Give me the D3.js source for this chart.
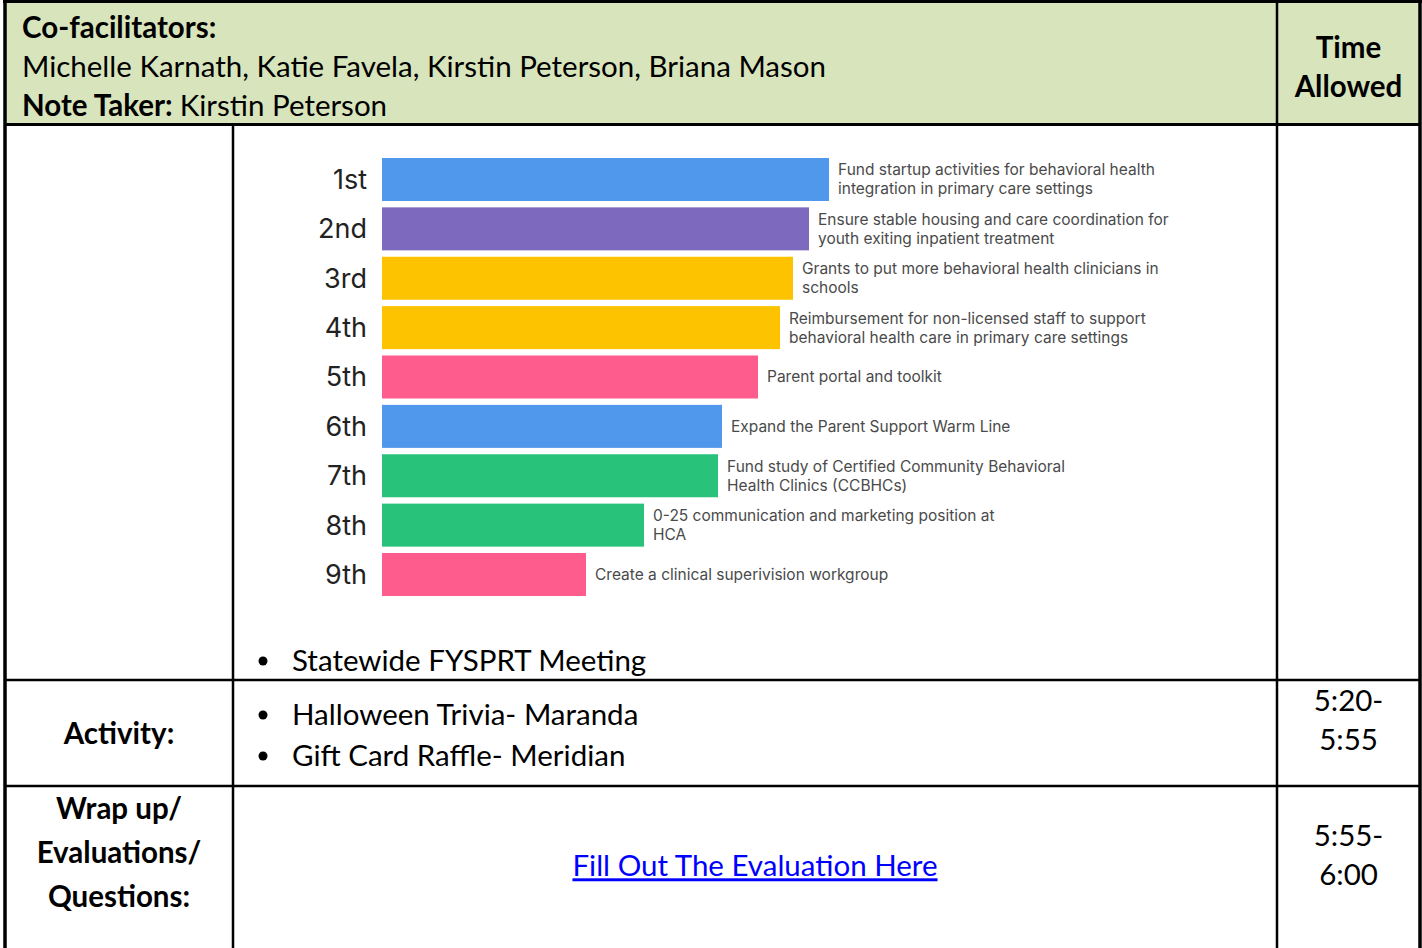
<!DOCTYPE html>
<html>
<head>
<meta charset="utf-8">
<script src="https://cdn.jsdelivr.net/npm/d3@7"></script>
<style>
  body { margin: 0; background: #fff; }
  svg { display: block; }
</style>
</head>
<body>
<div id="page"></div>
<script>
// ranking chart data
var ranks = ["1st", "2nd", "3rd", "4th", "5th", "6th", "7th", "8th", "9th"];
var scores = [447, 427, 411, 398, 376, 340, 336, 262, 204];
var priorities = [
    ["Fund startup activities for behavioral health", "integration in primary care settings"],
    ["Ensure stable housing and care coordination for", "youth exiting inpatient treatment"],
    ["Grants to put more behavioral health clinicians in", "schools"],
    ["Reimbursement for non-licensed staff to support", "behavioral health care in primary care settings"],
    ["Parent portal and toolkit"],
    ["Expand the Parent Support Warm Line"],
    ["Fund study of Certified Community Behavioral", "Health Clinics (CCBHCs)"],
    ["0-25 communication and marketing position at", "HCA"],
    ["Create a clinical superivision workgroup"]
];
var barColors = ["#4f98ec", "#7d69be", "#fdc300", "#fdc300", "#fe5c8c",
                 "#4f98ec", "#28c27b", "#28c27b", "#fe5c8c"];

// table text
var cofacilitators = "Michelle Karnath, Katie Favela, Kirstin Peterson, Briana Mason";
var noteTaker = "Kirstin Peterson";
var timeHeader = ["Time", "Allowed"];
var agendaItem = ["Statewide FYSPRT Meeting"];
var activityItems = ["Halloween Trivia- Maranda", "Gift Card Raffle- Meridian"];
var activityTime = ["5:20-", "5:55"];
var wrapLabel = ["Wrap up/", "Evaluations/", "Questions:"];
var wrapTime = ["5:55-", "6:00"];
var evalLink = "Fill Out The Evaluation Here";

var W = 1422, H = 948;
var docFont = "Lato, 'Open Sans', sans-serif";
var fs = 29.5;

var svg = d3.select("#page").append("svg")
    .attr("width", W).attr("height", H);

// grid positions
var xL = 5, xC1 = 233, xC2 = 1277, xR = 1420;
var yT = 1.5, yH = 124.5, yR2 = 680, yR3 = 786;

// header background
svg.append("rect").attr("x", xL).attr("y", yT).attr("width", xR - xL).attr("height", yH - yT)
    .attr("fill", "#d8e4bc");

// header text
var hdr = svg.append("text").attr("font-family", docFont).attr("font-size", fs).attr("fill", "#000");
hdr.append("tspan").attr("x", 22).attr("y", 38).attr("font-weight", "bold").text("Co-facilitators:");
hdr.append("tspan").attr("x", 22).attr("y", 77).text(cofacilitators);
var nt = svg.append("text").attr("font-family", docFont).attr("font-size", fs).attr("x", 22).attr("y", 116);
nt.append("tspan").attr("font-weight", "bold").text("Note Taker: ");
nt.append("tspan").text(noteTaker);

svg.selectAll(".timehdr").data(timeHeader).enter().append("text")
    .attr("class", "timehdr")
    .attr("x", (xC2 + xR) / 2).attr("y", function(d, i){ return 58 + i * 39; })
    .attr("text-anchor", "middle").attr("font-family", docFont).attr("font-size", fs)
    .attr("font-weight", "bold").text(function(d){ return d; });

// ---- bar chart ----
var x = d3.scaleLinear().domain([0, d3.max(scores)]).range([382, 829]);
var y = d3.scaleBand().domain(ranks).range([154.8, 599.2]).paddingInner(0.129).paddingOuter(0.0645);
var chart = svg.append("g");

chart.selectAll(".bar").data(ranks).enter().append("rect")
    .attr("class", "bar")
    .attr("x", x(0))
    .attr("y", function(d){ return y(d); })
    .attr("width", function(d, i){ return x(scores[i]) - x(0); })
    .attr("height", y.bandwidth())
    .attr("fill", function(d, i){ return barColors[i]; });

chart.selectAll(".rank").data(ranks).enter().append("text")
    .attr("class", "rank")
    .attr("x", x(0) - 15)
    .attr("y", function(d){ return y(d) + y.bandwidth() / 2; })
    .attr("dy", "0.35em")
    .attr("text-anchor", "end")
    .attr("font-family", "Inter, Roboto, sans-serif")
    .attr("font-size", 27)
    .attr("fill", "#222")
    .text(function(d){ return d; });

var lbl = chart.selectAll(".lbl").data(ranks).enter().append("text")
    .attr("class", "lbl")
    .attr("font-family", "Inter, Roboto, sans-serif")
    .attr("font-size", 15.5)
    .attr("fill", "#4a4a4a");
lbl.each(function(d, i){
    var lines = priorities[i];
    var cy = y(d) + y.bandwidth() / 2;
    var lh = 19;
    var t = d3.select(this);
    lines.forEach(function(line, k){
        t.append("tspan")
            .attr("x", x(scores[i]) + 9)
            .attr("y", cy + (k - (lines.length - 1) / 2) * lh)
            .attr("dy", "0.35em")
            .text(line);
    });
});

// ---- body text ----
function bullet(list, y0, step){
    var g = svg.append("g");
    list.forEach(function(s, i){
        g.append("circle").attr("cx", 263).attr("cy", y0 + i * step).attr("r", 4.5).attr("fill", "#000");
        g.append("text").attr("x", 292).attr("y", y0 + i * step).attr("dy", "0.35em")
            .attr("font-family", docFont).attr("font-size", fs).text(s);
    });
}
bullet(agendaItem, 661, 41);
bullet(activityItems, 715, 41);

svg.append("text").attr("x", (xL + xC1) / 2).attr("y", 734).attr("dy", "0.35em")
    .attr("text-anchor", "middle").attr("font-family", docFont).attr("font-size", fs)
    .attr("font-weight", "bold").text("Activity:");

svg.selectAll(".acttime").data(activityTime).enter().append("text")
    .attr("x", (xC2 + xR) / 2).attr("y", function(d, i){ return 701 + i * 39; }).attr("dy", "0.35em")
    .attr("text-anchor", "middle").attr("font-family", docFont).attr("font-size", fs)
    .text(function(d){ return d; });

svg.selectAll(".wrap").data(wrapLabel).enter().append("text")
    .attr("x", (xL + xC1) / 2).attr("y", function(d, i){ return 809 + i * 44; }).attr("dy", "0.35em")
    .attr("text-anchor", "middle").attr("font-family", docFont).attr("font-size", fs)
    .attr("font-weight", "bold").text(function(d){ return d; });

svg.selectAll(".wraptime").data(wrapTime).enter().append("text")
    .attr("x", (xC2 + xR) / 2).attr("y", function(d, i){ return 836 + i * 39; }).attr("dy", "0.35em")
    .attr("text-anchor", "middle").attr("font-family", docFont).attr("font-size", fs)
    .text(function(d){ return d; });

svg.append("text").attr("x", 755).attr("y", 866).attr("dy", "0.35em")
    .attr("text-anchor", "middle").attr("font-family", docFont).attr("font-size", fs)
    .attr("fill", "#0000ff").attr("text-decoration", "underline").text(evalLink);

// ---- grid lines ----
var lines = [
    [xL, yT, xL, H, 3.5], [xR, yT, xR, H, 3.5],
    [xL - 2, yT, xR + 2, yT, 3], [xL, yH, xR, yH, 3],
    [xC2, yT, xC2, H, 2.5], [xC1, yH, xC1, H, 2.5],
    [xL, yR2, xR, yR2, 2.5], [xL, yR3, xR, yR3, 2.5]
];
svg.selectAll(".grid").data(lines).enter().append("line")
    .attr("x1", function(d){ return d[0]; }).attr("y1", function(d){ return d[1]; })
    .attr("x2", function(d){ return d[2]; }).attr("y2", function(d){ return d[3]; })
    .attr("stroke", "#000").attr("stroke-width", function(d){ return d[4]; });
</script>
</body>
</html>
